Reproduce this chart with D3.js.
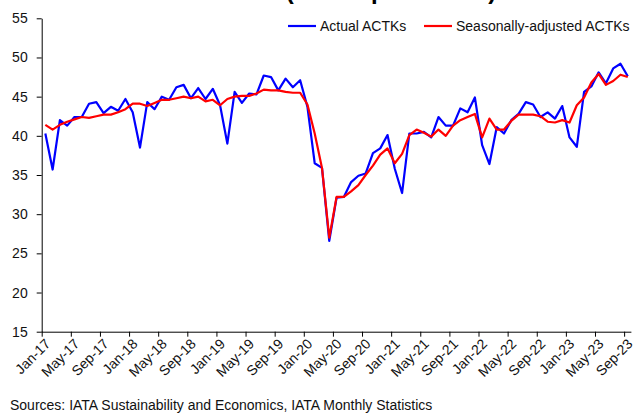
<!DOCTYPE html>
<html>
  <meta charset="utf-8">
  <style>
  body { margin: 0; background: #fff; }
  svg { font-family: "Liberation Sans", Arial, sans-serif; }
  .axis path, .axis line { stroke: #000; }
  .axis text { fill: #111; font-size: 14px; }
  </style>
  <head>
    <script src="https://d3js.org/d3.v7.min.js"></script>
  </head>
  <body>
    <script>
      // monthly ACTKs, Jan-17 .. Sep-23
      var monthNames = ["Jan","Feb","Mar","Apr","May","Jun","Jul","Aug","Sep","Oct","Nov","Dec"];
      var months = [];
      for (var yr = 17; yr <= 23; yr++)
        monthNames.forEach(function(m, k) { if (yr < 23 || k < 9) months.push(m + "-" + yr); });

      var actual = [40.3,35.7,42.0,41.3,42.4,42.4,44.1,44.3,42.9,43.7,43.2,44.7,
                    43.0,38.5,44.3,43.4,45.0,44.6,46.2,46.5,44.8,46.1,44.7,46.0,
                    43.9,39.0,45.6,44.2,45.4,45.3,47.7,47.5,45.8,47.3,46.2,47.1,
                    43.7,36.5,35.9,26.6,32.1,32.2,34.1,34.9,35.2,37.8,38.4,40.1,
                    35.8,32.7,40.3,40.3,40.5,39.8,42.4,41.3,41.3,43.5,43.0,44.9,
                    38.8,36.4,41.1,40.3,42.0,42.8,44.3,44.0,42.4,43.0,42.2,43.8,
                    39.8,38.6,45.6,46.3,48.1,46.7,48.6,49.2,47.6];
      var seasAdj = [41.4,40.8,41.4,41.8,42.1,42.4,42.3,42.5,42.7,42.7,43.0,43.4,
                     44.1,44.1,43.8,44.2,44.6,44.6,44.8,45.0,44.8,45.0,44.4,44.6,
                     43.9,44.7,45.0,45.1,45.1,45.4,45.9,45.8,45.8,45.6,45.5,45.5,
                     44.0,40.3,35.9,27.0,32.2,32.2,32.9,33.7,35.0,36.2,37.6,38.4,
                     36.5,37.7,40.1,40.8,40.4,39.9,40.8,40.0,41.3,42.0,42.4,42.8,
                     39.8,42.2,40.8,40.8,41.9,42.7,42.7,42.7,42.5,41.8,41.7,42.0,
                     41.7,43.9,44.9,46.8,47.9,46.5,47.0,47.8,47.5];
      var yTicks = [15,20,25,30,35,40,45,50,55];
      var seriesNames = ["Actual ACTKs", "Seasonally-adjusted ACTKs"];
      var seriesColors = ["#0000ff", "#ff0000"];

      var width = 637, height = 414;
      var mLeft = 41.7, mRight = 631.4, mTop = 18.3, mBottom = 331.7;

      var svg = d3.select("body").append("svg")
          .attr("width", width)
          .attr("height", height);

      // category boundaries; points sit at the middle of each month
      var x = d3.scaleLinear().domain([0, months.length]).range([mLeft, mRight]);
      var y = d3.scaleLinear().domain([15, 55]).range([mBottom, mTop]);

      // title is cut off at the top edge in the source picture
      svg.append("text")
          .attr("x", 391).attr("y", -1)
          .attr("text-anchor", "middle")
          .style("font-size", "24px").style("font-weight", "bold")
          .text("(billion per month)");

      svg.append("g").attr("class", "axis")
          .attr("transform", "translate(" + mLeft + ",0)")
          .call(d3.axisLeft(y).tickValues(yTicks).tickSize(5).tickPadding(9).tickSizeOuter(0));

      var xAxis = svg.append("g").attr("class", "axis")
          .attr("transform", "translate(0," + mBottom + ")")
          .call(d3.axisBottom(x).tickValues(d3.range(0, months.length, 4))
                .tickSize(5).tickSizeOuter(0)
                .tickFormat(function(i) { return months[i]; }));
      xAxis.select(".domain").attr("d", "M" + mLeft + ",0.5H" + mRight);
      xAxis.selectAll("text")
          .attr("text-anchor", "end")
          .attr("dy", null)
          .attr("y", 0)
          .attr("transform", "translate(9,13) rotate(-45)");

      var line = d3.line()
          .x(function(d, i) { return x(i + 0.5); })
          .y(function(d) { return y(d); });

      [actual, seasAdj].forEach(function(s, k) {
        svg.append("path")
            .datum(s)
            .attr("fill", "none")
            .attr("stroke", seriesColors[k])
            .attr("stroke-width", 2.2)
            .attr("stroke-linejoin", "round")
            .attr("d", line);
      });

      // legend
      var legX = [288, 424];
      seriesNames.forEach(function(n, k) {
        var g = svg.append("g").attr("transform", "translate(" + legX[k] + ",26)");
        g.append("line").attr("x1", 0).attr("x2", 28)
            .attr("stroke", seriesColors[k]).attr("stroke-width", 2.2);
        g.append("text").attr("x", 32).attr("dy", "0.35em")
            .style("font-size", "14px").attr("fill", "#111").text(n);
      });

      svg.append("text")
          .attr("x", 10).attr("y", 410)
          .style("font-size", "14px").attr("fill", "#111")
          .text("Sources: IATA Sustainability and Economics, IATA Monthly Statistics");
    </script>
  </body>
</html>
